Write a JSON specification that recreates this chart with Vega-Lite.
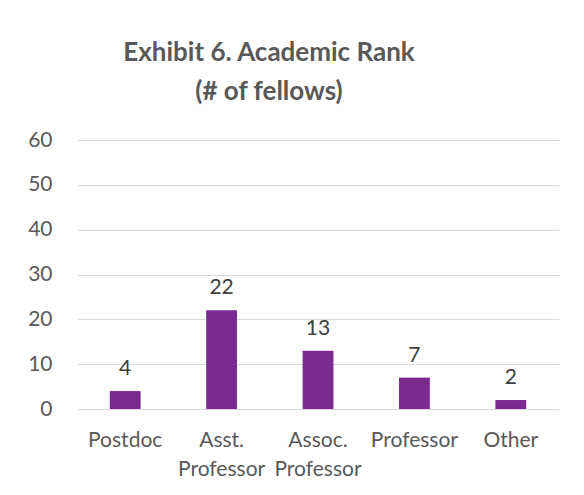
{
  "$schema": "https://vega.github.io/schema/vega-lite/v6.json",
  "width": 482,
  "height": 269,
  "autosize": {"type": "none"},
  "padding": {"left": 77, "top": 140, "right": 25, "bottom": 86},
  "background": "white",
  "title": {
    "text": ["Exhibit 6. Academic Rank", "(# of fellows)"],
    "font": "Lato",
    "fontSize": 26,
    "fontWeight": "bold",
    "color": "#595959",
    "anchor": "middle",
    "dx": -49,
    "offset": 24,
    "lineHeight": 39
  },
  "data": {
    "values": [
      {"rank": "Postdoc", "fellows": 4},
      {"rank": "Asst. Professor", "fellows": 22},
      {"rank": "Assoc. Professor", "fellows": 13},
      {"rank": "Professor", "fellows": 7},
      {"rank": "Other", "fellows": 2}
    ]
  },
  "encoding": {
    "x": {
      "field": "rank",
      "type": "nominal",
      "sort": null,
      "scale": {"paddingInner": 0.68, "paddingOuter": 0.34},
      "axis": {
        "title": null,
        "labelAngle": 0,
        "labelExpr": "split(datum.value, ' ')",
        "labelFont": "Lato",
        "labelFontSize": 21,
        "labelColor": "#595959",
        "labelPadding": 31,
        "labelLineHeight": 29,
        "labelBaseline": "middle",
        "ticks": false,
        "domain": false,
        "grid": false
      }
    },
    "y": {
      "field": "fellows",
      "type": "quantitative",
      "scale": {"domain": [0, 60]},
      "axis": {
        "title": null,
        "values": [0, 10, 20, 30, 40, 50, 60],
        "labelFont": "Lato",
        "labelFontSize": 21,
        "labelColor": "#595959",
        "labelPadding": 25,
        "ticks": false,
        "domain": false,
        "gridColor": "#d9d9d9",
        "gridWidth": 1
      }
    }
  },
  "layer": [
    {"mark": {"type": "bar", "color": "#7B2A90"}},
    {
      "mark": {"type": "text", "dy": -22, "font": "Lato", "fontSize": 21, "color": "#404040"},
      "encoding": {"text": {"field": "fellows", "type": "quantitative"}}
    }
  ],
  "config": {"view": {"stroke": null}}
}
